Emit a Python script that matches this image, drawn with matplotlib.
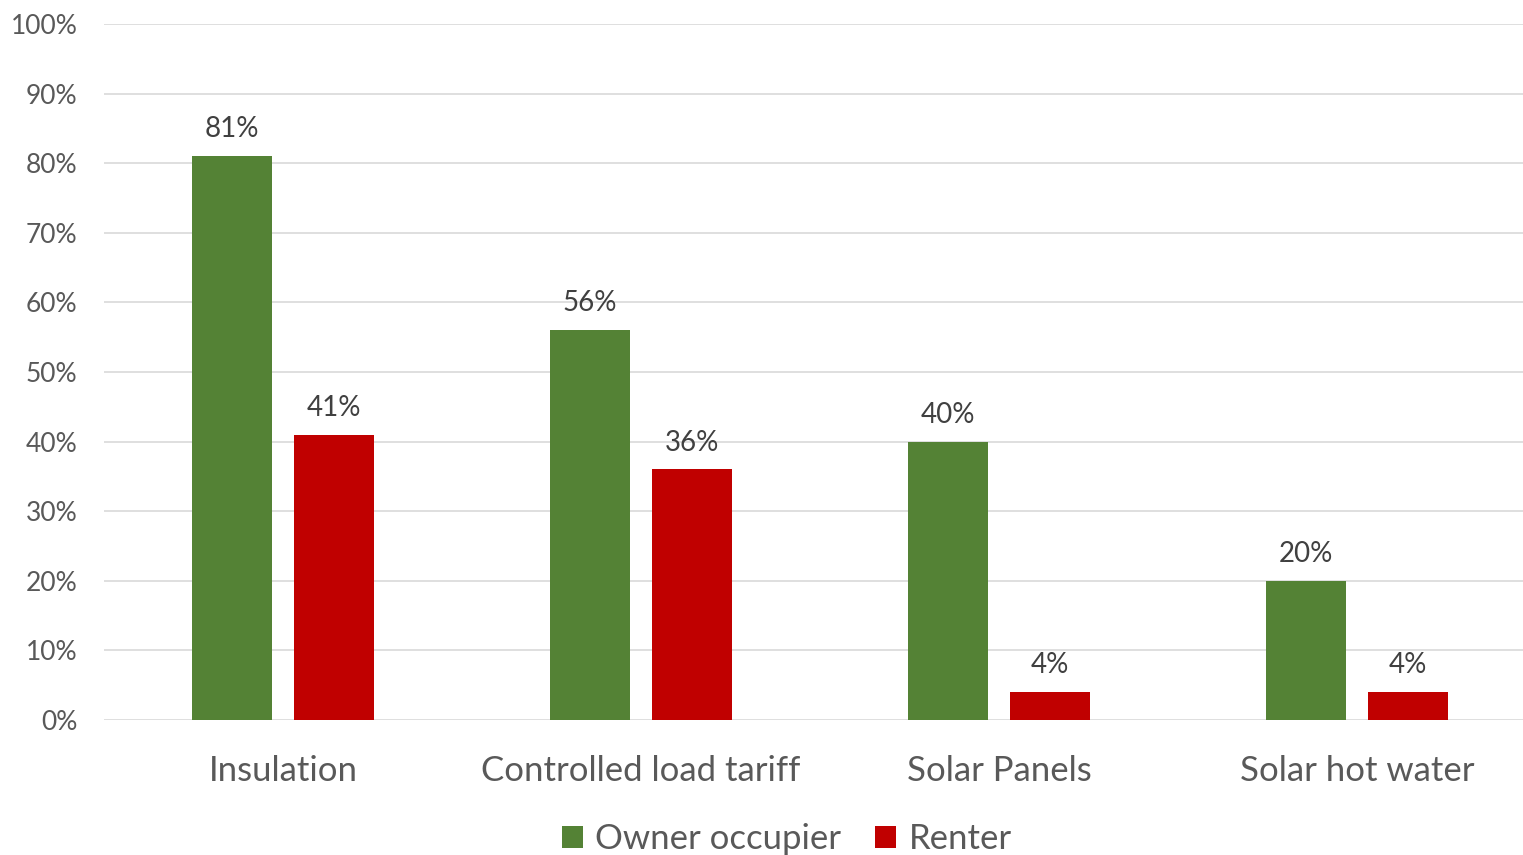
import matplotlib.pyplot as plt
from matplotlib.ticker import PercentFormatter

plt.rcParams['font.family'] = ['Lato', 'DejaVu Sans']

categories = ['Insulation', 'Controlled load tariff', 'Solar Panels', 'Solar hot water']
owner = [81, 56, 40, 20]
renter = [41, 36, 4, 4]
series_names = ['Owner occupier', 'Renter']

green = '#548235'
red = '#C00000'
text_col = '#595959'

fig = plt.figure(figsize=(15.23, 8.55), dpi=100)
ax = fig.add_axes([104 / 1523, 1 - 720 / 855, 1432 / 1523, 696 / 855])

x = range(len(categories))
w = 0.223
off = 0.142
b1 = ax.bar([i - off for i in x], owner, w, color=green, label=series_names[0], zorder=3)
b2 = ax.bar([i + off for i in x], renter, w, color=red, label=series_names[1], zorder=3)

for bars, vals in ((b1, owner), (b2, renter)):
    for rect, v in zip(bars, vals):
        ax.text(rect.get_x() + rect.get_width() / 2, v + 2.0, '%d%%' % v,
                ha='center', va='bottom', fontsize=20, color='#404040')

ax.set_xlim(-0.5, 3.5)
ax.set_ylim(0, 100)
ax.set_yticks(range(0, 101, 10))
ax.yaxis.set_major_formatter(PercentFormatter(decimals=0))
ax.set_xticks(list(x))
ax.set_xticklabels(categories, fontsize=25, color=text_col)
ax.tick_params(axis='y', labelsize=19, labelcolor=text_col, length=0, pad=19)
ax.tick_params(axis='x', length=0, pad=25)
ax.grid(axis='y', color='#D9D9D9', linewidth=1.2, zorder=0)
for s in ax.spines.values():
    s.set_visible(False)

fig.legend(handles=[b1, b2], loc='lower center', bbox_to_anchor=(0.5165, -0.037), ncol=2,
           frameon=False, fontsize=25, handlelength=0.6, handleheight=0.6,
           handletextpad=0.35, columnspacing=1.0, labelcolor=text_col)

fig.savefig('out.png', dpi=100)
